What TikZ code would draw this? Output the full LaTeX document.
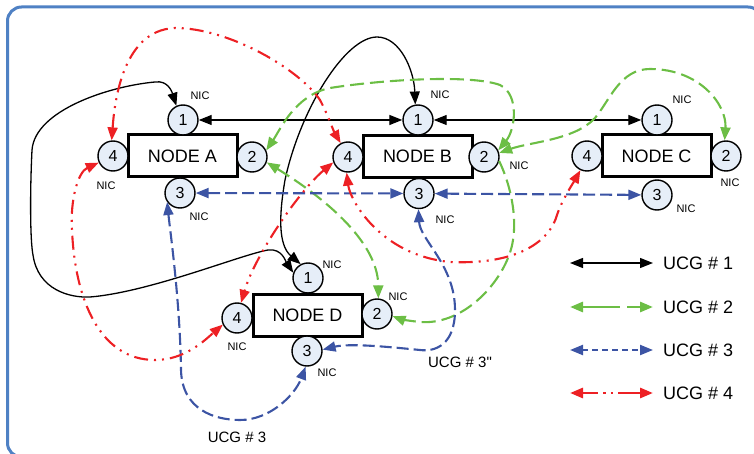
\documentclass[tikz,border=0pt]{standalone}
\usepackage{fontspec}
\newfontfamily\lsans{Liberation Sans}
\usetikzlibrary{arrows.meta}
\definecolor{framec}{RGB}{79,129,196}
\definecolor{ugreen}{RGB}{108,190,69}
\definecolor{ublue}{RGB}{60,84,164}
\definecolor{ured}{RGB}{237,32,36}
\definecolor{cfill}{RGB}{230,238,248}
\begin{document}
\begin{tikzpicture}[x=1pt,y=-1pt,
  >={Triangle[length=13pt,width=10pt]},
  nic/.style={circle,draw,line width=1.4pt,fill=cfill,minimum size=30pt,inner sep=0pt,font=\lsans\fontsize{16}{16}\selectfont},
  nodebox/.style={draw,line width=3pt,minimum width=109pt,minimum height=42pt,inner sep=0pt,font=\lsans\fontsize{18}{18}\selectfont},
  nict/.style={font=\lsans\fontsize{11}{11}\selectfont,inner sep=0pt},
  ucglbl/.style={font=\lsans\fontsize{15}{15}\selectfont,inner sep=0pt},
  legt/.style={font=\lsans\fontsize{18}{18}\selectfont,inner sep=0pt,anchor=west},
  ucgone/.style={line width=1.3pt,black},
  ucgtwo/.style={line width=2.1pt,ugreen,dash pattern=on 14pt off 6pt},
  ucgthree/.style={line width=2.1pt,ublue,dash pattern=on 12pt off 5pt},
  ucgfour/.style={line width=2.1pt,ured,dash pattern=on 14pt off 6pt on 2pt off 6pt on 2pt off 6pt},
  frame/.style={line width=3pt,framec,rounded corners=14pt}
]
\useasboundingbox (0,0) rectangle (754,454);
\draw[frame] (7.5,7) rectangle (762,457);

% boxes
\node[nodebox] (NA) at (182.5,156) {NODE A};
\node[nodebox] (NB) at (417.5,156.5) {NODE B};
\node[nodebox] (NC) at (656.5,156) {NODE C};
\node[nodebox] (ND) at (307.5,315.5) {NODE D};

% NICs
\node[nic] (A1) at (183,120) {1};
\node[nic] (A2) at (252,157) {2};
\node[nic] (A3) at (180,193) {3};
\node[nic] (A4) at (113,156) {4};
\node[nic] (B1) at (418,120) {1};
\node[nic] (B2) at (484,157) {2};
\node[nic] (B3) at (419,193.5) {3};
\node[nic] (B4) at (348,157) {4};
\node[nic] (C1) at (657,120) {1};
\node[nic] (C2) at (726,156) {2};
\node[nic] (C3) at (657,195) {3};
\node[nic] (C4) at (587,156) {4};
\node[nic] (D1) at (308,278) {1};
\node[nic] (D2) at (377,314) {2};
\node[nic] (D3) at (307,351) {3};
\node[nic] (D4) at (237,318) {4};

% NIC labels
\node[nict] (nA1) at (200,96) {NIC};
\node[nict] (nA4) at (106,186) {NIC};
\node[nict] (nA3) at (199,217) {NIC};
\node[nict] (nB1) at (440,95) {NIC};
\node[nict] (nB2) at (519,166) {NIC};
\node[nict] (nB3) at (445,220) {NIC};
\node[nict] (nC1) at (682,100) {NIC};
\node[nict] (nC2) at (730,183) {NIC};
\node[nict] (nC3) at (686,209) {NIC};
\node[nict] (nD1) at (332,265) {NIC};
\node[nict] (nD2) at (398,297) {NIC};
\node[nict] (nD4) at (237,347) {NIC};
\node[nict] (nD3) at (327,373) {NIC};

% UCG 1 (black)
\draw[ucgone,<->] (A1) -- (B1);
\draw[ucgone,<->] (B1) -- (C1);
\draw[ucgone,<->] (A1.115) .. controls (172,92) and (168,80) .. (155,82)
  .. controls (110,86) and (35,110) .. (32,150)
  .. controls (30,190) and (30,240) .. (33,255)
  .. controls (38,290) and (70,298) .. (90,297)
  .. controls (150,292) and (240,255) .. (268,250)
  .. controls (282,248) and (286,262) .. (D1.160);
\draw[ucgone,<->] (B1.100) .. controls (414,70) and (400,37) .. (377,37)
  .. controls (345,37) and (300,110) .. (285,180)
  .. controls (279,215) and (278,245) .. (D1.118);

% UCG 2 (green)
\draw[ucgtwo,<->] (C2.95) .. controls (727,105) and (700,69) .. (650,69)
  .. controls (620,69) and (610,100) .. (595,118)
  .. controls (575,140) and (530,142) .. (B2.15);
\draw[ucgtwo,<->] (A2.25) .. controls (280,130) and (295,95) .. (330,88)
  .. controls (380,80) and (470,74) .. (500,85)
  .. controls (520,95) and (515,130) .. (B2.25);
\draw[ucgtwo,<->] (A2.-20) .. controls (320,195) and (378,240) .. (D2.85);
\draw[ucgtwo,->] (B2.-15) .. controls (513,190) and (520,230) .. (508,258)
  .. controls (495,290) and (460,325) .. (420,322)
  .. controls (410,321) and (400,319) .. (D2.-8);

% UCG 3 (blue)
\draw[ucgthree,<->] (A3) -- (B3);
\draw[ucgthree,<->] (B3) -- (C3);
\draw[ucgthree,<->] (A3.215) .. controls (170,230) and (180,300) .. (181,370)
  .. controls (182,410) and (215,420) .. (240,420)
  .. controls (270,420) and (295,395) .. (D3.265);
\draw[ucgthree,<->] (B3.268) .. controls (420,240) and (455,265) .. (455,310)
  .. controls (455,345) and (435,352) .. (420,350)
  .. controls (390,347) and (350,343) .. (D3.5);

% UCG 4 (red)
\draw[ucgfour,<->] (A4.95) .. controls (114,110) and (120,30) .. (175,28)
  .. controls (230,28) and (300,70) .. (320,100)
  .. controls (328,115) and (333,130) .. (B4.118);
\draw[ucgfour,<->] (A4.205) .. controls (78,172) and (70,200) .. (72,230)
  .. controls (75,300) and (100,360) .. (155,360)
  .. controls (185,360) and (205,340) .. (D4.205);
\draw[ucgfour,<->] (B4.200) .. controls (300,190) and (255,255) .. (D4.75);
\draw[ucgfour,<->] (B4.265) .. controls (350,200) and (380,255) .. (450,262)
  .. controls (520,265) and (550,240) .. (557,215)
  .. controls (562,200) and (572,185) .. (C4.245);

% labels
\node[ucglbl] (u3a) at (237,437) {UCG \# 3};
\node[ucglbl] (u3b) at (460,362) {UCG \# 3"};

% legend
\coordinate (l1a) at (570,263); \coordinate (l1b) at (653,263);
\coordinate (l2a) at (570,307); \coordinate (l2b) at (653,307);
\coordinate (l3a) at (570,350); \coordinate (l3b) at (653,350);
\coordinate (l4a) at (570,393); \coordinate (l4b) at (653,393);
\draw[ucgone,<->] (l1a) -- (l1b);
\draw[ucgtwo,line width=2.8pt,dash pattern=on 38pt off 7pt,<->] (l2a) -- (l2b);
\draw[ucgthree,line width=2.2pt,dash pattern=on 6pt off 4pt,<->] (l3a) -- (l3b);
\draw[ucgfour,line width=2.8pt,dash pattern=on 16pt off 5pt on 2.5pt off 5pt on 2.5pt off 5pt on 40pt,<->] (l4a) -- (l4b);
\node[legt] (t1) at (663,263) {UCG \# 1};
\node[legt] (t2) at (663,307) {UCG \# 2};
\node[legt] (t3) at (663,350) {UCG \# 3};
\node[legt] (t4) at (663,393) {UCG \# 4};
\end{tikzpicture}
\end{document}
